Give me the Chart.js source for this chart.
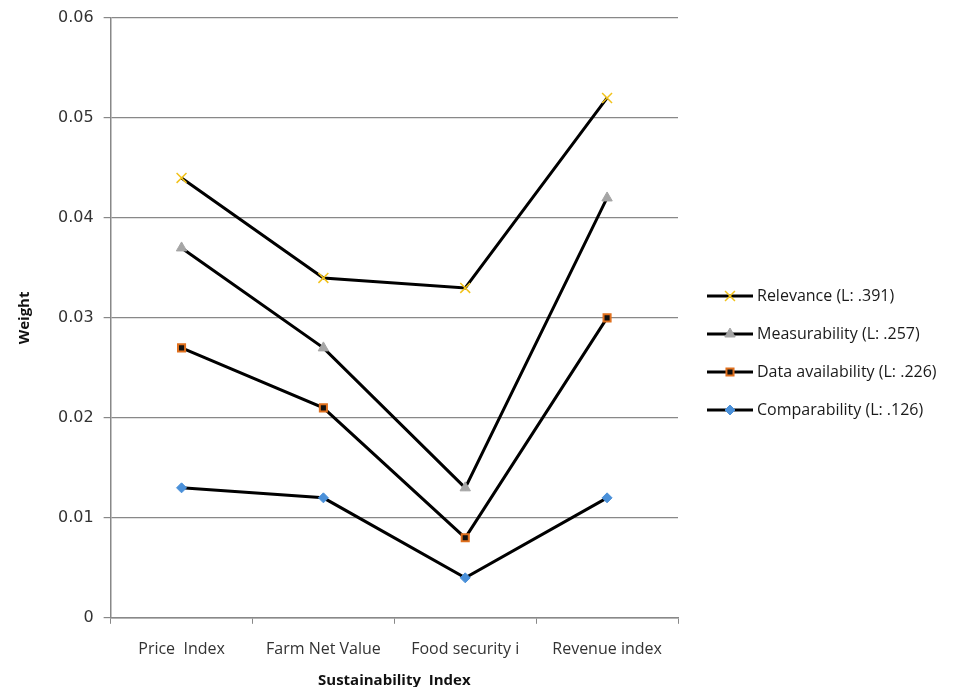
<!DOCTYPE html>
<html>
<head>
<meta charset="utf-8">
<script src="https://cdn.jsdelivr.net/npm/chart.js@4"></script>
<style>
  html, body { margin: 0; padding: 0; background: #fff; }
  #wrap { width: 973px; height: 687px; }
</style>
</head>
<body>
<div id="wrap"><canvas id="weightChart"></canvas></div>
<script>
// chart data
const categories = ["Price  Index", "Farm Net Value", "Food security i", "Revenue index"];
const seriesNames = ["Relevance (L: .391)", "Measurability (L: .257)", "Data availability (L: .226)", "Comparability (L: .126)"];
const relevance = [0.044, 0.034, 0.033, 0.052];
const measurability = [0.037, 0.027, 0.013, 0.042];
const dataAvailability = [0.027, 0.021, 0.008, 0.030];
const comparability = [0.013, 0.012, 0.004, 0.012];
const yTicks = [0, 0.01, 0.02, 0.03, 0.04, 0.05, 0.06];

// legend on the right: black line with the series marker in the middle
const sideLegend = {
    id: "sideLegend",
    afterDraw(chart) {
        const ctx = chart.ctx;
        const x0 = 707, gap = 38, y0 = 296;
        chart.data.datasets.forEach((ds, i) => {
            const y = y0 + i * gap;
            ctx.save();
            ctx.strokeStyle = "#000";
            ctx.lineWidth = 3;
            ctx.beginPath();
            ctx.moveTo(x0, y);
            ctx.lineTo(x0 + 46, y);
            ctx.stroke();
            ctx.fillStyle = ds.pointBackgroundColor;
            ctx.strokeStyle = ds.pointBorderColor;
            ctx.lineWidth = ds.pointBorderWidth;
            Chart.helpers.drawPoint(ctx, {
                pointStyle: ds.pointStyle,
                radius: ds.pointRadius,
                borderWidth: ds.pointBorderWidth
            }, x0 + 23, y);
            ctx.fillStyle = "#1a1a1a";
            ctx.font = "16px 'Open Sans'";
            ctx.textBaseline = "middle";
            ctx.fillText(ds.label, x0 + 50, y);
            ctx.restore();
        });
    }
};

function series(label, values, style, fill, border, radius, bw) {
    return {
        label: label,
        data: values,
        borderColor: "#000",
        borderWidth: 3,
        tension: 0,
        pointStyle: style,
        pointBackgroundColor: fill,
        pointBorderColor: border,
        pointRadius: radius,
        pointBorderWidth: bw,
        pointHoverRadius: radius
    };
}

new Chart(document.getElementById("weightChart"), {
    type: "line",
    data: {
        labels: categories,
        datasets: [
            series(seriesNames[0], relevance, "crossRot", "#f2c21a", "#f2c21a", 7, 1.5),
            series(seriesNames[1], measurability, "triangle", "#a5a5a5", "#a5a5a5", 6, 1),
            series(seriesNames[2], dataAvailability, "rect", "#111", "#e0701e", 5, 2),
            series(seriesNames[3], comparability, "rectRot", "#4a90d9", "#4a90d9", 5, 1)
        ]
    },
    options: {
        responsive: true,
        maintainAspectRatio: false,
        animation: false,
        events: [],
        layout: { padding: { top: 5, right: 295, bottom: 0, left: 12 } },
        plugins: { legend: { display: false }, tooltip: { enabled: false } },
        scales: {
            x: {
                offset: true,
                grid: { offset: true, drawOnChartArea: false, drawTicks: true, tickLength: 6, color: "#888" },
                border: { color: "#888", width: 1.5 },
                ticks: { color: "#333", font: { family: "Open Sans", size: 16 }, padding: 16, maxRotation: 0, autoSkip: false },
                title: { display: true, text: "Sustainability  Index", color: "#111", font: { family: "Open Sans", size: 15, weight: "bold", lineHeight: 0.8 }, padding: { top: 0, bottom: 0 } }
            },
            y: {
                min: 0,
                max: 0.06,
                afterBuildTicks(axis) { axis.ticks = yTicks.map(v => ({ value: v })); },
                grid: { color: "#888", lineWidth: 1.2, tickLength: 7 },
                border: { color: "#888", width: 1.5 },
                ticks: { color: "#333", font: { family: "DejaVu Sans", size: 16, lineHeight: 1.0 }, padding: 10, callback: v => String(+v.toFixed(2)) },
                title: { display: true, text: "Weight", color: "#111", font: { family: "Open Sans", size: 15, weight: "bold" }, padding: { bottom: 14 } }
            }
        }
    },
    plugins: [sideLegend]
});
</script>
</body>
</html>
